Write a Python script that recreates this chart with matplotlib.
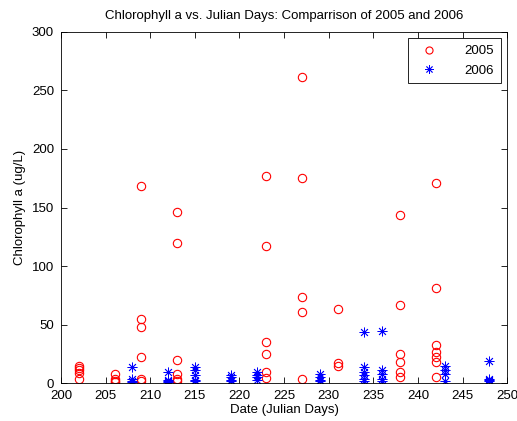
import numpy as np
import matplotlib
matplotlib.use('Agg')
import matplotlib.pyplot as plt

plt.rcParams['font.family'] = ['Liberation Sans', 'DejaVu Sans']

# chlorophyll a samples, 2005 (julian day, ug/L)
days2005 = [202, 202, 202, 202, 202,
            206, 206, 206, 206,
            209, 209, 209, 209, 209, 209,
            213, 213, 213, 213, 213, 213,
            223, 223, 223, 223, 223, 223,
            227, 227, 227, 227, 227,
            231, 231, 231,
            238, 238, 238, 238, 238, 238,
            242, 242, 242, 242, 242, 242, 242]
chl2005 = [15, 13, 11, 8.5, 4,
           8, 4, 2, 1,
           168, 55, 48, 22, 4, 2,
           146, 120, 20, 8, 4, 2,
           177, 117, 35, 25, 10, 4.5,
           261, 175, 74, 61, 4,
           63, 17, 14.5,
           144, 67, 25, 18, 10, 5,
           171, 81, 33, 27, 22.5, 18, 5]

# chlorophyll a samples, 2006
days2006 = [208, 208, 208, 208,
            212, 212, 212, 212,
            215, 215, 215, 215, 215,
            219, 219, 219, 219,
            222, 222, 222, 222,
            229, 229, 229, 229,
            234, 234, 234, 234, 234, 234,
            236, 236, 236, 236, 236,
            243, 243, 243, 243,
            248, 248, 248, 248]
chl2006 = [14, 4, 2, 1,
           10, 3, 2, 1,
           14, 11, 7, 3, 2,
           7, 5, 3, 2,
           10, 7, 5, 3,
           8, 5, 3, 2,
           44, 14, 10, 7, 4, 2,
           45, 11, 8, 4, 2,
           15, 11, 8, 2,
           19, 4, 3, 2]

fs = 9.5

fig = plt.figure(figsize=(5.17, 4.21), dpi=100)
ax = fig.add_axes([0.118, 0.0896, 0.863, 0.835])

# asterisk marker: + and x overlaid
asterisk = (8, 2, 0)

ax.plot(days2005, chl2005, 'o', color='red', markerfacecolor='none',
        markersize=6, markeredgewidth=0.8, label='2005')
ax.plot(days2006, chl2006, marker=asterisk, linestyle='none', color='blue',
        markersize=7, markeredgewidth=0.6, label='2006')

ax.set_xlim(200, 250)
ax.set_ylim(0, 300)
ax.set_xticks(np.arange(200, 251, 5))
ax.set_yticks(np.arange(0, 301, 50))
ax.tick_params(direction='in', top=True, right=True, labelsize=fs,
               length=4, width=0.6)
ax.tick_params(axis='x', pad=5)
ax.tick_params(axis='y', pad=5)
for s in ax.spines.values():
    s.set_linewidth(0.6)

ax.set_title('Chlorophyll a vs. Julian Days: Comparrison of 2005 and 2006',
             fontsize=fs, pad=9)
ax.set_xlabel('Date (Julian Days)', fontsize=fs, labelpad=1)
ax.set_ylabel('Chlorophyll a (ug/L)', fontsize=fs, labelpad=4)

leg = ax.legend(loc='upper right', fontsize=fs, fancybox=False,
                edgecolor='black', framealpha=1, handletextpad=1.6,
                handlelength=2.2, borderaxespad=0.5, borderpad=0.5,
                labelspacing=0.55, markerscale=0.85, numpoints=1)
leg.get_frame().set_linewidth(0.6)

fig.savefig('out.png', dpi=100)
